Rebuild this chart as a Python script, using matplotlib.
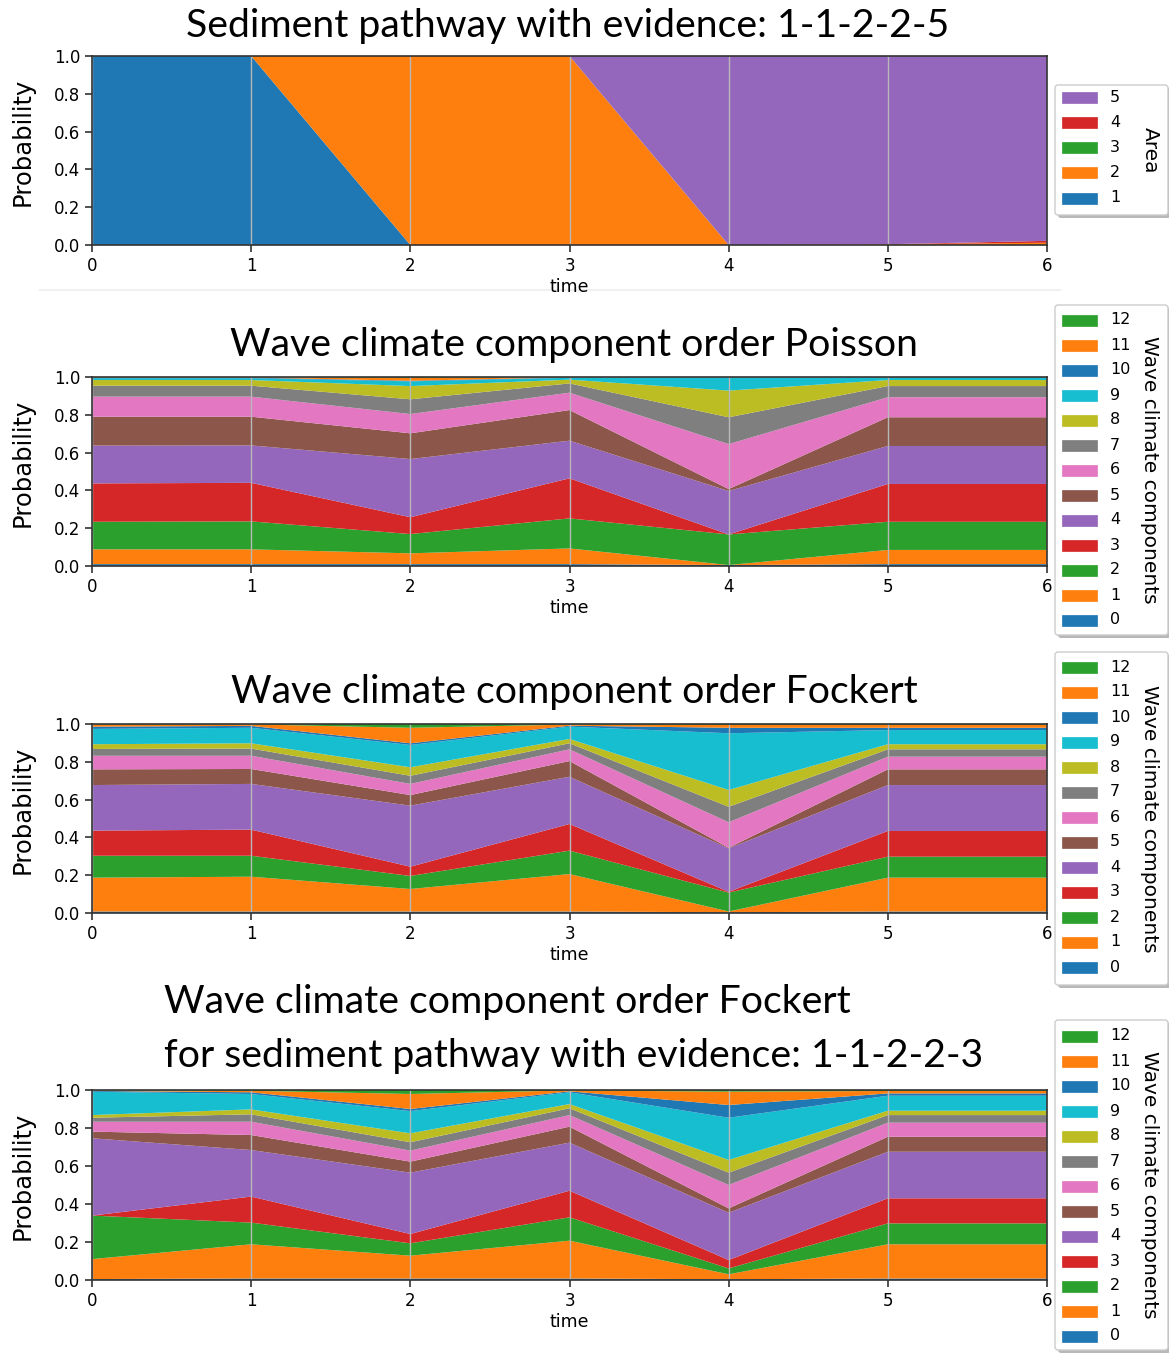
import matplotlib
matplotlib.use("Agg")
import matplotlib.pyplot as plt
from matplotlib.patches import FancyBboxPatch, Rectangle
from matplotlib.lines import Line2D

# ---------------- data ----------------
time = [0, 1, 2, 3, 4, 5, 6]

# Sediment pathway: probability of each area per time step
area_labels = ["1", "2", "3", "4", "5"]
area_1 = [1.0, 1.0, 0.0, 0.0, 0.0, 0.0, 0.0]
area_2 = [0.0, 0.0, 1.0, 1.0, 0.0, 0.004, 0.012]
area_3 = [0.0, 0.0, 0.0, 0.0, 0.0, 0.0, 0.0]
area_4 = [0.0, 0.0, 0.0, 0.0, 0.0, 0.0, 0.010]
area_5 = [0.0, 0.0, 0.0, 0.0, 1.0, 0.996, 0.978]

component_labels = [str(i) for i in range(13)]

# Wave climate components, order Poisson (rows: component 0..12, columns: time 0..6)
poisson = [
    [0.010, 0.010, 0.010, 0.010, 0.005, 0.010, 0.010],
    [0.078, 0.078, 0.057, 0.083, 0.000, 0.075, 0.075],
    [0.146, 0.148, 0.102, 0.159, 0.162, 0.149, 0.149],
    [0.203, 0.204, 0.089, 0.212, 0.000, 0.200, 0.200],
    [0.200, 0.198, 0.308, 0.199, 0.230, 0.201, 0.201],
    [0.153, 0.152, 0.136, 0.162, 0.010, 0.152, 0.152],
    [0.106, 0.106, 0.102, 0.092, 0.238, 0.106, 0.106],
    [0.058, 0.058, 0.078, 0.049, 0.142, 0.059, 0.059],
    [0.030, 0.030, 0.070, 0.020, 0.141, 0.032, 0.032],
    [0.010, 0.010, 0.025, 0.010, 0.070, 0.011, 0.011],
    [0.003, 0.003, 0.003, 0.002, 0.001, 0.003, 0.003],
    [0.002, 0.002, 0.015, 0.001, 0.001, 0.001, 0.001],
    [0.001, 0.001, 0.005, 0.001, 0.000, 0.001, 0.001],
]

# Wave climate components, order Fockert
fockert = [
    [0.008, 0.008, 0.008, 0.008, 0.004, 0.008, 0.008],
    [0.179, 0.184, 0.119, 0.198, 0.004, 0.179, 0.179],
    [0.116, 0.111, 0.069, 0.124, 0.100, 0.111, 0.111],
    [0.133, 0.138, 0.049, 0.141, 0.004, 0.136, 0.136],
    [0.241, 0.242, 0.323, 0.250, 0.230, 0.243, 0.243],
    [0.083, 0.079, 0.056, 0.083, 0.003, 0.083, 0.083],
    [0.072, 0.070, 0.059, 0.062, 0.135, 0.067, 0.067],
    [0.036, 0.038, 0.043, 0.032, 0.082, 0.039, 0.039],
    [0.025, 0.028, 0.045, 0.023, 0.089, 0.027, 0.027],
    [0.081, 0.082, 0.118, 0.065, 0.300, 0.075, 0.075],
    [0.012, 0.010, 0.009, 0.005, 0.029, 0.012, 0.012],
    [0.011, 0.008, 0.082, 0.006, 0.015, 0.015, 0.015],
    [0.003, 0.002, 0.020, 0.003, 0.005, 0.005, 0.005],
]

# Wave climate components, order Fockert, given sediment pathway 1-1-2-2-3
fockert_pathway = [
    [0.005, 0.008, 0.008, 0.008, 0.004, 0.008, 0.008],
    [0.105, 0.180, 0.120, 0.199, 0.026, 0.180, 0.180],
    [0.229, 0.114, 0.065, 0.123, 0.031, 0.110, 0.110],
    [0.000, 0.137, 0.049, 0.140, 0.044, 0.132, 0.132],
    [0.407, 0.245, 0.323, 0.253, 0.249, 0.245, 0.245],
    [0.035, 0.079, 0.058, 0.084, 0.023, 0.079, 0.079],
    [0.052, 0.070, 0.058, 0.061, 0.123, 0.074, 0.074],
    [0.021, 0.039, 0.044, 0.036, 0.065, 0.040, 0.040],
    [0.014, 0.026, 0.047, 0.022, 0.067, 0.023, 0.023],
    [0.123, 0.081, 0.117, 0.062, 0.222, 0.079, 0.079],
    [0.004, 0.009, 0.011, 0.005, 0.067, 0.012, 0.012],
    [0.003, 0.008, 0.079, 0.005, 0.070, 0.013, 0.013],
    [0.002, 0.004, 0.021, 0.002, 0.009, 0.005, 0.005],
]

# ---------------- style ----------------
tab10 = ["#1f77b4", "#ff7f0e", "#2ca02c", "#d62728", "#9467bd",
         "#8c564b", "#e377c2", "#7f7f7f", "#bcbd22", "#17becf"]
TITLE_FONT = "Lato"

W, H = 1169, 1354
fig = plt.figure(figsize=(W / 100, H / 100), dpi=100)

# faint separator under the first panel, drawn beneath everything else
fig.add_artist(Line2D([40 / W, 1060 / W], [1 - 290 / H, 1 - 290 / H],
                      color="#f0f0f0", linewidth=1.5, zorder=-1))

# overlay in pixel units for titles and legend boxes
overlay = fig.add_axes([0, 0, 1, 1], zorder=10)
overlay.set_xlim(0, W)
overlay.set_ylim(H, 0)
overlay.axis("off")
overlay.patch.set_alpha(0)


def px_rect(left, top, right, bottom):
    return [left / W, 1 - bottom / H, (right - left) / W, (bottom - top) / H]


def style_axes(ax):
    ax.set_xlim(0, 6)
    ax.set_ylim(0, 1)
    ax.set_xticks(range(7))
    ax.set_yticks([0.0, 0.2, 0.4, 0.6, 0.8, 1.0])
    ax.set_yticklabels(["0.0", "0.2", "0.4", "0.6", "0.8", "1.0"])
    ax.tick_params(labelsize=12, length=5, width=1.2, color="#333333")
    ax.grid(axis="x", color="#b8b8b8", linewidth=1.0)
    for s in ax.spines.values():
        s.set_color("#333333")
        s.set_linewidth(1.2)
    ax.set_ylabel("Probability", fontsize=17.5)
    ax.yaxis.set_label_coords(-0.060, 0.548)
    ax.set_xlabel("time", fontsize=12.5)
    ax.xaxis.set_label_coords(0.5, -0.175)


def side_legend(labels, colors, title, top, bottom, first_y, step):
    left, right = 1055, 1168
    overlay.add_patch(FancyBboxPatch((left + 3, top + 3), right - left, bottom - top,
                                     boxstyle="round,pad=0,rounding_size=3",
                                     facecolor="#8a8a8a", edgecolor="none",
                                     alpha=0.6, zorder=1))
    overlay.add_patch(FancyBboxPatch((left, top), right - left, bottom - top,
                                     boxstyle="round,pad=0,rounding_size=3",
                                     facecolor="white", edgecolor="#cccccc",
                                     linewidth=1.0, zorder=2))
    for i, (lab, col) in enumerate(zip(labels[::-1], colors[::-1])):
        y = first_y + i * step
        overlay.add_patch(Rectangle((1062, y - 5.5), 35, 11, facecolor=col,
                                    edgecolor=col, linewidth=0.5, zorder=3))
        overlay.text(1110, y, lab, fontsize=11.5, va="center", ha="left", zorder=4)
    overlay.text(1150, (top + bottom) / 2, title, rotation=270, fontsize=14.5,
                 ha="center", va="center", zorder=4)


# ---------- panel 1: sediment pathway ----------
ax1 = fig.add_axes(px_rect(92, 56, 1047, 245))
area_colors = tab10[:5]
ax1.stackplot(time, area_1, area_2, area_3, area_4, area_5, colors=area_colors)
style_axes(ax1)
side_legend(area_labels, area_colors, "Area", 85, 215, 97, 25.25)
overlay.text(568, 26, "Sediment pathway with evidence: 1-1-2-2-5",
             ha="center", va="center", fontsize=28.3, family=TITLE_FONT)

comp_colors = [tab10[i % 10] for i in range(13)]

panels = [
    (poisson, (377, 566), (305, 635, 320),
     "Wave climate component order Poisson", 345),
    (fockert, (724, 913), (652, 985, 667),
     "Wave climate component order Fockert", 692),
    (fockert_pathway, (1090, 1280), (1020, 1350, 1036),
     "Wave climate component order Fockert\nfor sediment pathway with evidence: 1-1-2-2-3",
     1029),
]

for data, (top, bottom), (lt, lb, ly), title, ty in panels:
    ax = fig.add_axes(px_rect(92, top, 1047, bottom))
    ax.stackplot(time, *data, colors=comp_colors)
    style_axes(ax)
    side_legend(component_labels, comp_colors, "Wave climate components",
                lt, lb, ly, 25.0)
    overlay.text(574, ty, title, ha="center", va="center", fontsize=28.3,
                 family=TITLE_FONT, multialignment="left", linespacing=1.62)

fig.savefig("out.png", dpi=100)
